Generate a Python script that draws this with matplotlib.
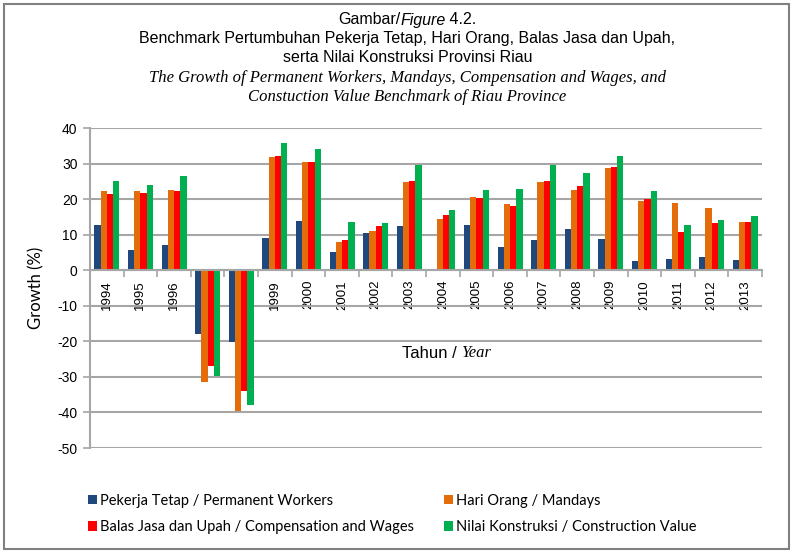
"""
Benchmark pertumbuhan pekerja tetap, hari orang, balas jasa dan upah,
serta nilai konstruksi Provinsi Riau (1994 - 2013).
"""

import matplotlib
matplotlib.use("Agg")
import matplotlib.pyplot as plt
from matplotlib.patches import Rectangle
import numpy as np

# Datos (%)
tahun = ["1994", "1995", "1996", "1997", "1998", "1999", "2000", "2001", "2002", "2003",
         "2004", "2005", "2006", "2007", "2008", "2009", "2010", "2011", "2012", "2013"]
pekerja_tetap = [12.8, 5.8, 7.0, -18.0, -20.1, 9.1, 13.8, 5.2, 10.4, 12.4,
                 0.2, 12.8, 6.4, 8.5, 11.5, 8.8, 2.7, 3.1, 3.8, 2.9]
hari_orang = [22.2, 22.4, 22.7, -31.5, -39.5, 31.8, 30.5, 7.8, 10.9, 24.9,
              14.5, 20.5, 18.7, 24.7, 22.6, 28.7, 19.6, 18.9, 17.6, 13.7]
balas_jasa = [21.3, 21.8, 22.3, -26.9, -34.1, 32.1, 30.5, 8.6, 12.4, 25.0,
              15.4, 20.3, 18.2, 25.0, 23.6, 29.1, 20.0, 10.8, 13.3, 13.7]
nilai_konstruksi = [25.0, 24.1, 26.6, -29.7, -38.0, 35.7, 34.1, 13.5, 13.4, 29.5,
                    16.9, 22.5, 22.9, 29.7, 27.3, 32.1, 22.2, 12.7, 14.2, 15.3]

series = [
    ("Pekerja Tetap / Permanent Workers", pekerja_tetap, "#1F497D"),
    ("Hari Orang / Mandays", hari_orang, "#E46C0A"),
    ("Balas Jasa dan Upah / Compensation and Wages", balas_jasa, "#FF0000"),
    ("Nilai Konstruksi / Construction Value", nilai_konstruksi, "#00B050"),
]

GRIS = "#A6A6A6"
plt.rcParams["axes.unicode_minus"] = False


def texto_mixto(fig, x, y, partes, centrado=True):
    """Escribe varios trozos de texto seguidos en una línea (coordenadas de figura)."""
    r = fig.canvas.get_renderer()
    anchos = []
    for txt, kw in partes:
        t = fig.text(0, 0, txt, **kw)
        anchos.append(t.get_window_extent(r).width / fig.bbox.width)
        t.remove()
    x0 = x - sum(anchos) / 2 if centrado else x
    for (txt, kw), w in zip(partes, anchos):
        fig.text(x0, y, txt, ha="left", va="center", **kw)
        x0 += w


fig = plt.figure(figsize=(7.94, 5.52), dpi=100)
ax = fig.add_axes([0.1134, 0.1884, 0.8463, 0.5797])

x = np.arange(len(tahun))
ancho = 0.186
barras = []
for i, (nombre, valores, color) in enumerate(series):
    b = ax.bar(x + (i - 1.5) * ancho, valores, ancho, color=color, label=nombre,
               zorder=3, linewidth=0)
    barras.append(b)

ax.set_xlim(-0.5, len(tahun) - 0.5)
ax.set_ylim(-50, 40)
ax.set_yticks(np.arange(-50, 41, 10))
ax.yaxis.grid(True, color=GRIS, linewidth=1.5, zorder=0)

# Eje x en el cero
ax.spines["bottom"].set_position(("data", 0))
ax.spines["bottom"].set_color(GRIS)
ax.spines["bottom"].set_linewidth(1.5)
ax.spines["bottom"].set_zorder(4)
ax.spines["left"].set_color(GRIS)
ax.spines["left"].set_linewidth(1.5)
ax.spines["top"].set_visible(False)
ax.spines["right"].set_visible(False)

ax.set_xticks(np.arange(-0.5, len(tahun), 1.0))
ax.set_xticklabels([])
ax.tick_params(axis="x", which="major", direction="out", length=5, width=1.2, color=GRIS)
ax.set_xticks(x, minor=True)
ax.set_xticklabels(tahun, minor=True, rotation=90, fontsize=9.5,
                   family="Liberation Sans", va="top")
ax.tick_params(axis="x", which="minor", length=0, pad=7)
ax.tick_params(axis="y", direction="out", length=5, width=1.2, color=GRIS,
               labelsize=10, pad=4)
for t in ax.get_yticklabels():
    t.set_family("Liberation Sans")

ax.set_ylabel("Growth (%)", fontsize=12, family="Lato", labelpad=9)

# Título
sans = dict(fontsize=11.5, family="Liberation Sans")
serif_it = dict(fontsize=12, family="Liberation Serif", style="italic")
xc = 0.513
texto_mixto(fig, xc, 1 - 20 / 552, [("Gambar/", sans),
                                    ("Figure", dict(sans, style="italic")),
                                    (" 4.2.", sans)])
fig.text(xc, 1 - 39 / 552,
         "Benchmark Pertumbuhan Pekerja Tetap, Hari Orang, Balas Jasa dan Upah,",
         ha="center", va="center", **sans)
fig.text(xc, 1 - 58 / 552, "serta Nilai Konstruksi Provinsi Riau",
         ha="center", va="center", **sans)
fig.text(xc, 1 - 78 / 552,
         "The Growth of Permanent Workers, Mandays, Compensation and Wages, and",
         ha="center", va="center", **serif_it)
fig.text(xc, 1 - 97 / 552, "Constuction Value Benchmark of Riau Province",
         ha="center", va="center", **serif_it)

# Título del eje x
texto_mixto(fig, 402 / 794, 1 - 353 / 552,
            [("Tahun / ", dict(fontsize=12, family="Liberation Sans")),
             ("Year", dict(fontsize=12, family="Liberation Serif", style="italic"))],
            centrado=False)

# Leyenda en dos columnas
props = dict(frameon=False, handlelength=0.6, handleheight=0.6,
             handletextpad=0.25, labelspacing=0.85, borderaxespad=0,
             prop={"family": "Lato", "size": 10.5})
fig.legend([barras[0], barras[2]], [series[0][0], series[2][0]],
           loc="upper left", bbox_to_anchor=(82 / 794, 1 - 488 / 552), **props)
fig.legend([barras[1], barras[3]], [series[1][0], series[3][0]],
           loc="upper left", bbox_to_anchor=(438 / 794, 1 - 488 / 552), **props)

# Marco exterior
fig.patches.append(Rectangle((4 / 794, 3 / 552), 785 / 794, 545 / 552,
                             transform=fig.transFigure, fill=False,
                             edgecolor="#808080", linewidth=1.5))

fig.savefig("out.png", dpi=100)
